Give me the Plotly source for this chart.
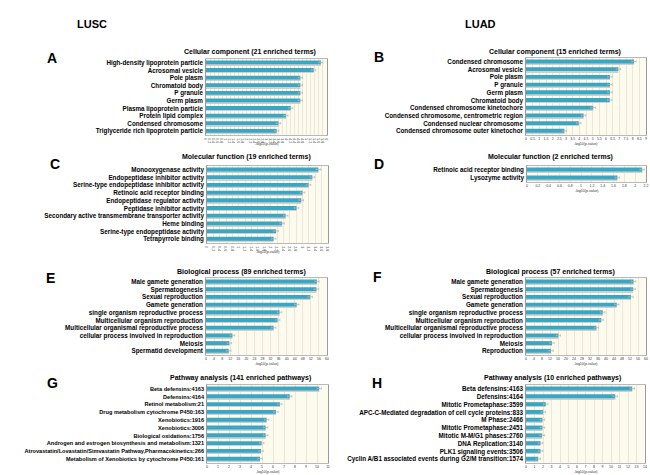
import plotly.graph_objects as go

# ---------------- data ----------------
A_labels = ["High-density lipoprotein particle", "Acrosomal vesicle", "Pole plasm", "Chromatoid body",
            "P granule", "Germ plasm", "Plasma lipoprotein particle", "Protein lipid complex",
            "Condensed chromosome", "Triglyceride rich lipoprotein particle"]
A_values = [5.70, 5.34, 4.68, 4.68, 4.68, 4.68, 4.20, 3.96, 3.60, 3.51]

B_labels = ["Condensed chromosome", "Acrosomal vesicle", "Pole plasm", "P granule", "Germ plasm",
            "Chromatoid body", "Condensed chromosome kinetochore",
            "Condensed chromosome, centrometric region", "Condensed nuclear chromosome",
            "Condensed chromosome outer kinetochor"]
B_values = [8.10, 6.93, 6.30, 6.30, 6.30, 6.28, 5.04, 4.32, 3.96, 2.88]

C_labels = ["Monooxygenase activity", "Endopeptidase inhibitor activity",
            "Serine-type endopeptidase inhibitor activity", "Retinoic acid receptor binding",
            "Endopeptidase regulator activity", "Peptidase inhibitor activity",
            "Secondary active transmembrane transporter activity", "Heme binding",
            "Serine-type endopeptidase activity", "Tetrapyrrole binding"]
C_values = [3.50, 3.31, 3.19, 3.00, 2.96, 2.81, 2.47, 2.36, 2.17, 2.09]

D_labels = ["Retinoic acid receptor binding", "Lysozyme activity"]
D_values = [2.13, 1.67]

E_labels = ["Male gamete generation", "Spermatogenesis", "Sexual reproduction", "Gamete generation",
            "single organism reproductive process", "Multicellular organism reproduction",
            "Multicellular organismal reproductive process", "cellular process involved in reproduction",
            "Meiosis", "Spermatid development"]
E_values = [55.0, 54.8, 51.7, 45.0, 36.5, 35.5, 33.5, 13.1, 11.6, 11.3]

F_labels = ["Male gamete generation", "Spermatogenesis", "Sexual reproduction", "Gamete generation",
            "single organism reproductive process", "Multicellular organism reproduction",
            "Multicellular organismal reproductive process", "cellular process involved in reproduction",
            "Meiosis", "Reproduction"]
F_values = [53.8, 53.6, 52.5, 45.4, 38.4, 37.6, 35.2, 16.2, 13.0, 12.5]

G_labels = ["Beta defensins:4163", "Defensins:4164", "Retinol metabolism:21",
            "Drug metabolism cytochrome P450:163", "Xenobiotics:1916", "Xenobiotics:3006",
            "Biological oxidations:1756", "Androgen and estrogen biosynthesis and metabolism:1321",
            "Atrovastatin/Lovastatin/Simvastatin Pathway,Pharmacokinetics:266",
            "Metabolism of Xenobiotics by cytochrome P450:161"]
G_values = [10.2, 7.53, 6.63, 6.27, 5.42, 5.33, 5.33, 4.97, 4.91, 4.82]

H_labels = ["Beta defensins:4163", "Defensins:4164", "Mitotic Prometaphase:3599",
            "APC-C-Mediated degradation of cell cycle proteins:833", "M Phase:2466",
            "Mitotic Prometaphase:2451", "Mitotic M-M/G1 phases:2760", "DNA Replication:3140",
            "PLK1 signaling events:3506", "Cyclin A/B1 associated events during G2/M transition:1574"]
H_values = [12.5, 10.5, 2.33, 2.02, 1.94, 1.94, 1.90, 1.71, 1.71, 1.44]

titles = {
    "A": "Cellular component (21 enriched terms)",
    "B": "Cellular component (15 enriched terms)",
    "C": "Molecular function (19 enriched terms)",
    "D": "Molecular function (2 enriched terms)",
    "E": "Biological process (89 enriched terms)",
    "F": "Biological process (57 enriched terms)",
    "G": "Pathway analysis (141 enriched pathways)",
    "H": "Pathway analysis (10 enriched pathways)",
}
# axis maxima, tick steps and error sizes
axis_max = {"A": 6, "B": 9, "C": 3.8, "D": 2.2, "E": 60, "F": 60, "G": 11, "H": 14}
axis_step = {"A": 0.2, "B": 0.5, "C": 0.2, "D": 0.2, "E": 4, "F": 4, "G": 1, "H": 1}
err = {"A": 0.10, "B": 0.16, "C": 0.07, "D": 0.04, "E": 1.1, "F": 1.1, "G": 0.2, "H": 0.26}
axis_title = "-log10(p-value)"

data = {"A": (A_labels, A_values), "B": (B_labels, B_values), "C": (C_labels, C_values),
        "D": (D_labels, D_values), "E": (E_labels, E_values), "F": (F_labels, F_values),
        "G": (G_labels, G_values), "H": (H_labels, H_values)}

# ---------------- layout geometry (pixels) ----------------
W, H = 650, 475
geom = {
    # x0, x1, top, bottom, title_x, title_y, letter_x, letter_y
    "A": (206, 327, 59, 135, 250, 52, 52, 58),
    "B": (526, 646, 58, 135, 555, 52, 379, 57),
    "C": (207, 328, 166, 243, 246, 157, 55, 164),
    "D": (527, 646, 166, 182, 550, 157, 379, 164),
    "E": (206, 327, 278, 355, 241, 272, 50, 278),
    "F": (526, 646, 278, 355, 550, 272, 377, 277),
    "G": (207, 328, 385, 463, 240, 378, 52, 383),
    "H": (526, 645, 385, 463, 552, 378, 377, 383),
}
label_size = {"A": 6.3, "B": 6.3, "C": 6.3, "D": 6.3, "E": 6.3, "F": 6.3, "G": 5.6, "H": 6.3}

TEAL = "#39a7c3"
fig = go.Figure()
layout = dict(template="none", width=W, height=H, margin=dict(l=0, r=0, t=0, b=0, pad=0),
              paper_bgcolor="white", plot_bgcolor="#fdfbee", showlegend=False,
              font=dict(family="Liberation Sans, Arial, sans-serif", color="black"))
annotations = []

def px(x):
    return x / W

def py(y):
    return 1 - y / H

for i, key in enumerate("ABCDEFGH"):
    n = i + 1
    xa = "x" if n == 1 else f"x{n}"
    ya = "y" if n == 1 else f"y{n}"
    labels, values = data[key]
    x0, x1, top, bottom, tx, ty, lx, ly = geom[key]
    fig.add_trace(go.Bar(x=values, y=labels, orientation="h", xaxis=xa, yaxis=ya,
                         marker=dict(color="#cfcfcf", line=dict(width=0)),
                         width=0.12, offset=0.2, hoverinfo="skip"))
    fig.add_trace(go.Bar(x=values, y=labels, orientation="h", xaxis=xa, yaxis=ya,
                         marker=dict(color=TEAL, line=dict(width=0)),
                         width=0.5, offset=-0.3,
                         error_x=dict(type="constant", value=err[key], color="#b5b5b5",
                                      thickness=0.7, width=1.2)))
    xname = "xaxis" if n == 1 else f"xaxis{n}"
    yname = "yaxis" if n == 1 else f"yaxis{n}"
    layout[xname] = dict(domain=[px(x0), px(x1)], anchor=ya, range=[0, axis_max[key]],
                         tickmode="linear", dtick=axis_step[key], tick0=0, automargin=False,
                         showgrid=True, gridcolor="#ebe7d6",
                         gridwidth=0.5, zeroline=False, showline=True, mirror=True,
                         linecolor="#b9b9b9", linewidth=0.6, ticks="",
                         tickfont=dict(size=3.5, color="#333333"), fixedrange=True)
    layout[yname] = dict(domain=[py(bottom), py(top)], anchor=xa, autorange="reversed",
                         type="category", tickmode="array", tickvals=labels, ticktext=labels,
                         automargin=False, showgrid=False, showline=True, mirror=True,
                         linecolor="#9a9a9a", linewidth=0.6, ticks="", ticklabelstandoff=1,
                         tickfont=dict(family="Liberation Sans, Arial, sans-serif",
                                       size=label_size[key], color="black", weight="bold"),
                         fixedrange=True)
    annotations.append(dict(x=px(tx), y=py(ty), xref="paper", yref="paper", text=titles[key],
                            showarrow=False, xanchor="center", yanchor="middle",
                            font=dict(size=7.0, weight="bold", color="black")))
    annotations.append(dict(x=px(lx), y=py(ly), xref="paper", yref="paper", text=key,
                            showarrow=False, xanchor="center", yanchor="middle",
                            font=dict(size=14, weight="bold", color="black")))
    annotations.append(dict(x=px((x0 + x1) / 2), y=py(bottom + 9), xref="paper", yref="paper",
                            text=axis_title, showarrow=False, xanchor="center", yanchor="middle",
                            font=dict(size=3.5, color="#333333")))

annotations.append(dict(x=px(92), y=py(24), xref="paper", yref="paper", text="LUSC",
                        showarrow=False, xanchor="center", yanchor="middle",
                        font=dict(size=11, weight="bold", color="black")))
annotations.append(dict(x=px(480), y=py(24), xref="paper", yref="paper", text="LUAD",
                        showarrow=False, xanchor="center", yanchor="middle",
                        font=dict(size=11, weight="bold", color="black")))
layout["annotations"] = annotations
fig.update_layout(**layout)
fig.write_html("out.html", config={"displayModeBar": False},
               post_script="document.body.style.margin='0';document.body.style.padding='0';")
